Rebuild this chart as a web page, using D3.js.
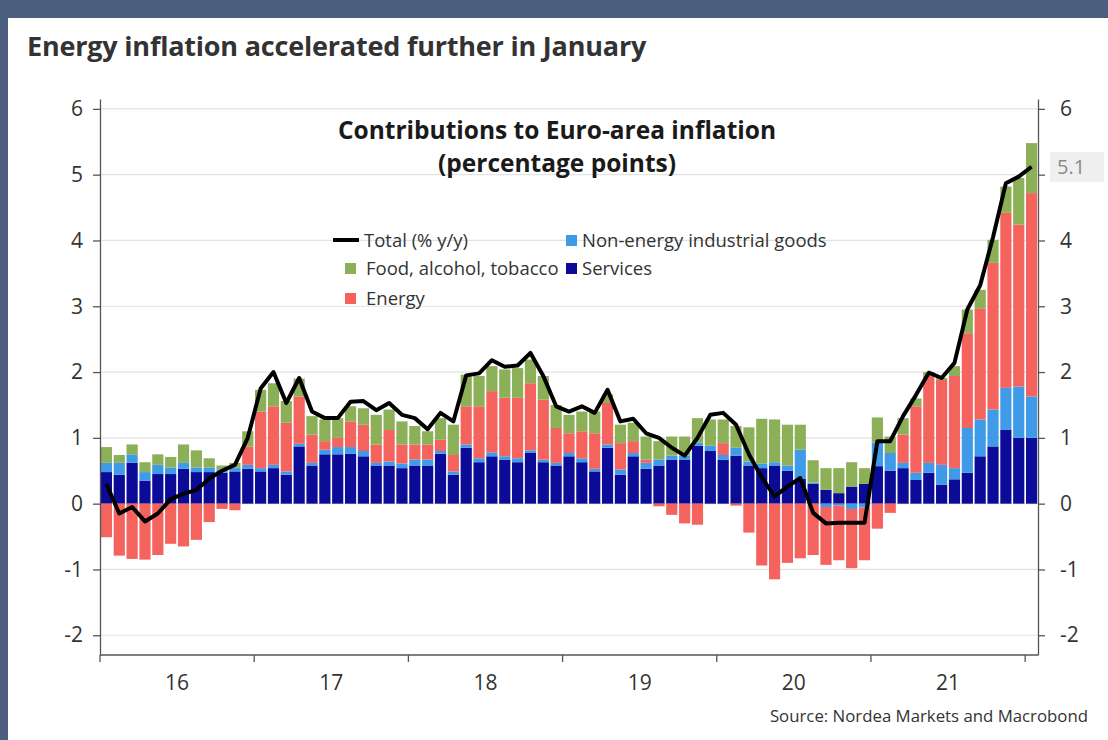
<!DOCTYPE html>
<html>
<head>
<meta charset="utf-8">
<script src="https://cdn.jsdelivr.net/npm/d3@7"></script>
<style>
  html, body { margin: 0; padding: 0; background: #fff; }
  svg { display: block; }
  text { font-family: "Open Sans", "Noto Sans", sans-serif; }
</style>
</head>
<body>
<svg id="chart" width="1108" height="740"></svg>
<script>
// Monthly contributions to euro-area HICP inflation, Jan 2016 - Jan 2022 (pp)
const months = d3.timeMonths(new Date(2016, 0, 1), new Date(2022, 1, 1));

const services = [
  0.48, 0.44, 0.62, 0.35, 0.45, 0.45, 0.53, 0.48, 0.48, 0.47, 0.49, 0.53,
  0.49, 0.54, 0.44, 0.87, 0.58, 0.75, 0.75, 0.76, 0.72, 0.58, 0.58, 0.54,
  0.58, 0.58, 0.76, 0.44, 0.85, 0.63, 0.72, 0.67, 0.63, 0.77, 0.63, 0.58,
  0.72, 0.63, 0.49, 0.85, 0.44, 0.72, 0.53, 0.58, 0.67, 0.67, 0.88, 0.80,
  0.67, 0.73, 0.58, 0.54, 0.58, 0.50, 0.38, 0.30, 0.21, 0.16, 0.26, 0.30,
  0.57, 0.50, 0.54, 0.36, 0.47, 0.29, 0.37, 0.47, 0.72, 0.87, 1.12, 1.00,
  1.00
];
const neig = [
  0.14, 0.18, 0.13, 0.13, 0.14, 0.10, 0.09, 0.07, 0.07, 0.05, 0.06, 0.06,
  0.05, 0.05, 0.05, 0.04, 0.04, 0.07, 0.11, 0.10, 0.08, 0.04, 0.06, 0.07,
  0.09, 0.09, 0.04, 0.05, 0.05, 0.06, 0.06, 0.05, 0.06, 0.04, 0.04, 0.04,
  0.05, 0.06, 0.04, 0.05, 0.08, 0.05, 0.09, 0.09, 0.06, 0.06, 0.05, 0.08,
  0.07, 0.12, 0.06, 0.07, 0.05, 0.08, 0.44, 0.02, -0.05, -0.03, -0.08, -0.06,
  0.36, 0.27, 0.08, 0.11, 0.15, 0.30, 0.17, 0.68, 0.56, 0.56, 0.64, 0.78,
  0.63
];
const energy = [
  -0.51, -0.79, -0.84, -0.85, -0.78, -0.61, -0.65, -0.55, -0.28, -0.08, -0.10, 0.28,
  0.86, 0.89, 0.74, 0.72, 0.43, 0.13, 0.14, 0.39, 0.40, 0.28, 0.48, 0.29,
  0.23, 0.23, 0.17, 0.25, 0.58, 0.79, 0.93, 0.89, 0.92, 1.02, 0.91, 0.53,
  0.30, 0.41, 0.54, 0.63, 0.40, 0.18, 0.05, -0.04, -0.17, -0.30, -0.32, 0.00,
  0.18, -0.03, -0.44, -0.94, -1.15, -0.90, -0.83, -0.78, -0.88, -0.83, -0.90, -0.80,
  -0.38, -0.14, 0.43, 1.01, 1.32, 1.29, 1.40, 1.44, 1.69, 2.23, 2.66, 2.46,
  3.09
];
const food = [
  0.24, 0.12, 0.15, 0.15, 0.16, 0.16, 0.28, 0.26, 0.14, 0.06, 0.07, 0.23,
  0.33, 0.35, 0.33, 0.27, 0.28, 0.33, 0.30, 0.23, 0.25, 0.45, 0.31, 0.35,
  0.28, 0.20, 0.33, 0.46, 0.48, 0.46, 0.38, 0.43, 0.45, 0.36, 0.36, 0.35,
  0.28, 0.30, 0.33, 0.13, 0.28, 0.28, 0.35, 0.28, 0.29, 0.29, 0.37, 0.40,
  0.36, 0.33, 0.52, 0.68, 0.65, 0.62, 0.38, 0.34, 0.33, 0.38, 0.37, 0.24,
  0.38, 0.25, 0.25, 0.12, 0.06, 0.03, 0.15, 0.36, 0.28, 0.35, 0.40, 0.71,
  0.76
];
const total = [
  0.30, -0.15, -0.05, -0.27, -0.15, 0.07, 0.15, 0.21, 0.38, 0.50, 0.59, 1.00,
  1.75, 2.00, 1.53, 1.91, 1.40, 1.30, 1.30, 1.55, 1.56, 1.42, 1.53, 1.35,
  1.30, 1.13, 1.38, 1.25, 1.95, 1.98, 2.18, 2.08, 2.10, 2.29, 1.94, 1.48,
  1.40, 1.48, 1.38, 1.73, 1.25, 1.29, 1.07, 1.00, 0.85, 0.73, 1.00, 1.35,
  1.38, 1.20, 0.75, 0.40, 0.11, 0.26, 0.39, -0.14, -0.30, -0.29, -0.29, -0.29,
  0.95, 0.95, 1.33, 1.65, 1.99, 1.91, 2.14, 2.95, 3.32, 4.05, 4.87, 4.97,
  5.12
];

const seriesKeys = ["services", "neig", "energy", "food"];
const seriesNames = {
  total: "Total (% y/y)",
  neig: "Non-energy industrial goods",
  food: "Food, alcohol, tobacco",
  services: "Services",
  energy: "Energy"
};
const colors = {
  services: "#0b0b98",
  neig: "#3f9be8",
  energy: "#f4635e",
  food: "#8cb057"
};
const yTicks = [-2, -1, 0, 1, 2, 3, 4, 5, 6];
const yearLabels = ["16", "17", "18", "19", "20", "21"];
const lastValueLabel = "5.1";

const rows = months.map((m, i) => ({
  month: m, i,
  services: services[i], neig: neig[i], energy: energy[i], food: food[i], total: total[i]
}));

const svg = d3.select("#chart");
const W = 1108, H = 740;

// frame
svg.append("rect").attr("width", W).attr("height", H).attr("fill", "#fff");
svg.append("rect").attr("x", 0).attr("y", 0).attr("width", W).attr("height", 18).attr("fill", "#4c5f80");
svg.append("rect").attr("x", 0).attr("y", 0).attr("width", 8).attr("height", H).attr("fill", "#4c5f80");

svg.append("text")
  .attr("x", 27).attr("y", 56)
  .attr("font-size", 27).attr("font-weight", 700).attr("fill", "#333")
  .attr("letter-spacing", -0.2)
  .text("Energy inflation accelerated further in January");

const plotLeft = 100, plotRight = 1038, plotTop = 99, plotBottom = 655;

const x = d3.scaleBand()
  .domain(rows.map(d => d.i))
  .range([plotLeft, plotRight])
  .paddingInner(0.13)
  .paddingOuter(0.065);

const y = d3.scaleLinear().domain([-2.3, 6.15]).range([plotBottom, plotTop]);

// gridlines
svg.append("g")
  .selectAll("line")
  .data(yTicks)
  .join("line")
  .attr("x1", plotLeft).attr("x2", plotRight)
  .attr("y1", d => y(d)).attr("y2", d => y(d))
  .attr("stroke", "#e2e2e2").attr("stroke-width", 1.2);

// stacked bars
const stack = d3.stack().keys(seriesKeys).offset(d3.stackOffsetDiverging);
const layers = stack(rows);

svg.append("g")
  .selectAll("g")
  .data(layers)
  .join("g")
  .attr("fill", d => colors[d.key])
  .selectAll("rect")
  .data(d => d)
  .join("rect")
  .attr("x", d => x(d.data.i))
  .attr("width", x.bandwidth())
  .attr("y", d => y(Math.max(d[0], d[1])))
  .attr("height", d => Math.abs(y(d[0]) - y(d[1])));

// total line
const line = d3.line()
  .x(d => x(d.i) + x.bandwidth() / 2)
  .y(d => y(d.total));

svg.append("path")
  .datum(rows)
  .attr("d", line)
  .attr("fill", "none")
  .attr("stroke", "#000")
  .attr("stroke-width", 4)
  .attr("stroke-linejoin", "round");

// axes
const axisColor = "#555";
const plainNum = d => String(d);
const styleAxis = g => {
  g.select(".domain").attr("stroke", axisColor).attr("stroke-width", 1.3);
  g.selectAll(".tick line").attr("stroke", axisColor).attr("stroke-width", 1.3);
  g.selectAll(".tick text").attr("fill", "#333").attr("font-size", 21)
    .attr("font-family", "'Open Sans', sans-serif");
};

svg.append("g")
  .attr("transform", `translate(${plotLeft},0)`)
  .call(d3.axisLeft(y).tickValues(yTicks).tickFormat(plainNum)
    .tickSize(7).tickPadding(10).tickSizeOuter(0))
  .call(styleAxis);

// right axis: the 5 label gives way to the latest-value tag
svg.append("g")
  .attr("transform", `translate(${plotRight},0)`)
  .call(d3.axisRight(y).tickValues(yTicks).tickFormat(d => d === 5 ? "" : String(d))
    .tickSize(7).tickPadding(15).tickSizeOuter(0))
  .call(styleAxis);

// x axis: year boundaries with year labels centred in each year
const step = x.step();
const yearStartIdx = rows.filter(d => d.month.getMonth() === 0).map(d => d.i);
const boundary = i => x(i) - step * x.paddingInner() / 2;

const xa = svg.append("g");
xa.append("line")
  .attr("x1", plotLeft).attr("x2", plotRight)
  .attr("y1", plotBottom).attr("y2", plotBottom)
  .attr("stroke", axisColor).attr("stroke-width", 1.3);
xa.selectAll("line.tick")
  .data(yearStartIdx)
  .join("line")
  .attr("class", "tick")
  .attr("x1", d => boundary(d)).attr("x2", d => boundary(d))
  .attr("y1", plotBottom).attr("y2", plotBottom + 7)
  .attr("stroke", axisColor).attr("stroke-width", 1.3);
xa.selectAll("text")
  .data(yearLabels)
  .join("text")
  .attr("x", (d, k) => boundary(yearStartIdx[k]) + step * 6)
  .attr("y", plotBottom + 35)
  .attr("text-anchor", "middle")
  .attr("font-size", 21).attr("fill", "#333")
  .text(d => d);

// latest-value tag on the right axis
const last = rows[rows.length - 1];
const tagY = y(last.total);
svg.append("rect")
  .attr("x", plotRight + 12).attr("y", tagY - 15)
  .attr("width", 54).attr("height", 30)
  .attr("fill", "#efefef");
svg.append("text")
  .attr("x", plotRight + 19).attr("y", tagY + 7)
  .attr("font-size", 20).attr("fill", "#8a8a8a")
  .text(lastValueLabel);

// chart heading
const heading = svg.append("text")
  .attr("text-anchor", "middle")
  .attr("font-size", 24.5).attr("font-weight", 700).attr("fill", "#1a1a1a");
heading.append("tspan").attr("x", 557).attr("y", 139).text("Contributions to Euro-area inflation");
heading.append("tspan").attr("x", 557).attr("y", 172).text("(percentage points)");

// legend
const legend = svg.append("g").attr("font-size", 18.5).attr("fill", "#333");
const legendItems = [
  { key: "total", x: 333, y: 240 },
  { key: "neig", x: 566, y: 240 },
  { key: "food", x: 345, y: 268 },
  { key: "services", x: 566, y: 268 },
  { key: "energy", x: 345, y: 298 }
];
legendItems.forEach(it => {
  if (it.key === "total") {
    legend.append("line")
      .attr("x1", it.x).attr("x2", it.x + 26)
      .attr("y1", it.y).attr("y2", it.y)
      .attr("stroke", "#000").attr("stroke-width", 4);
    legend.append("text").attr("x", it.x + 31).attr("y", it.y + 6.5).text(seriesNames[it.key]);
  } else {
    legend.append("rect")
      .attr("x", it.x).attr("y", it.y - 5)
      .attr("width", 11).attr("height", 11)
      .attr("fill", colors[it.key]);
    legend.append("text").attr("x", it.x + (it.x < 400 ? 21 : 16)).attr("y", it.y + 6.5).text(seriesNames[it.key]);
  }
});

// source
svg.append("text")
  .attr("x", 1088).attr("y", 722)
  .attr("text-anchor", "end")
  .attr("font-size", 16.8).attr("fill", "#333")
  .text("Source: Nordea Markets and Macrobond");
</script>
</body>
</html>
